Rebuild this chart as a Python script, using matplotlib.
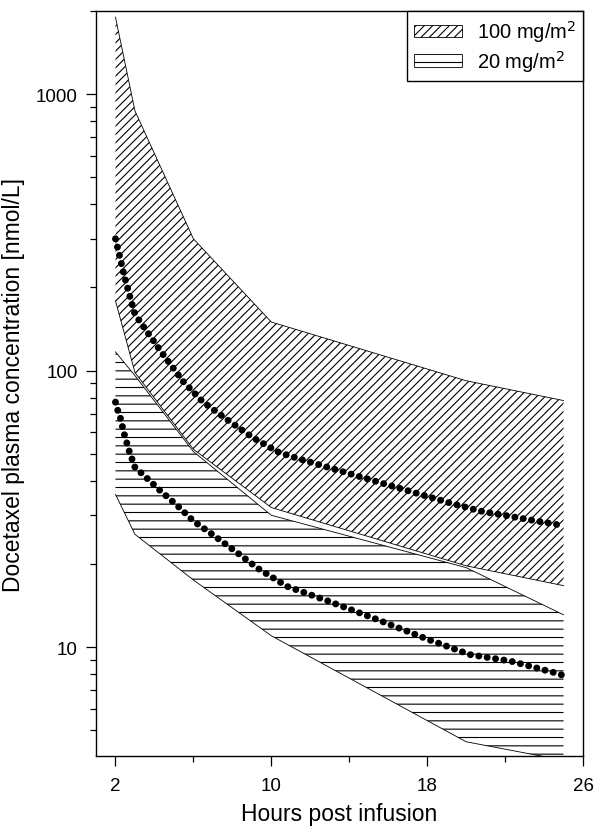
import matplotlib
matplotlib.use('Agg')
import matplotlib.pyplot as plt
from matplotlib.patches import Patch
from matplotlib.ticker import FixedLocator, NullFormatter
import numpy as np

plt.rcParams['font.family'] = ['Liberation Sans', 'DejaVu Sans']
plt.rcParams['hatch.linewidth'] = 0.8

# band time points (h)
t_band = [2, 3, 6, 10, 20, 25]
# 100 mg/m2 range
hi_upper = [1900, 870, 300, 150, 92, 78]
hi_lower = [179, 98.5, 52, 32, 19.7, 16.7]
# 20 mg/m2 range
lo_upper = [117, 96, 51, 30, 19.4, 13.1]
lo_lower = [35.7, 25.6, 17.5, 11.0, 4.55, 3.9]

# mean curves
t_mean_hi = [2, 2.2, 2.4, 2.75, 3, 3.6, 4.5, 5.5, 6.5, 7.8, 9.1, 10.4, 11.6,
             15.1, 19, 20.7, 25]
c_mean_hi = [300, 262, 228, 184, 160, 139, 113, 91, 77, 66, 57, 50.6, 47.6,
             40.3, 33.5, 31.1, 27.5]
t_mean_lo = [2, 2.1, 2.25, 2.45, 2.7, 3, 3.45, 4.3, 5.2, 6, 6.9, 8.2, 9.3,
             10.8, 12.9, 15.3, 18, 20.2, 22.3, 24.5, 25]
c_mean_lo = [77, 72.5, 67.5, 59, 51.3, 44.7, 41.9, 36.8, 32.4, 28.6, 25.8,
             22.1, 19.3, 16.6, 14.7, 12.7, 10.7, 9.4, 8.9, 8.1, 7.9]

labels = ['100 mg/m$^2$', '20 mg/m$^2$']
hatches = ['////', '--']

fig = plt.figure(figsize=(6, 8.28), dpi=100)
ax = fig.add_axes([0.16, 0.0857, 0.8117, 0.8998])

ax.fill_between(t_band, hi_lower, hi_upper, facecolor='none',
                edgecolor='black', hatch=hatches[0], linewidth=0)
ax.fill_between(t_band, lo_lower, lo_upper, facecolor='none',
                edgecolor='black', hatch=hatches[1], linewidth=0)
for yy in (hi_upper, hi_lower, lo_upper, lo_lower):
    ax.plot(t_band, yy, color='black', lw=0.6)

for tt, cc in ((t_mean_hi, c_mean_hi), (t_mean_lo, c_mean_lo)):
    ax.plot(tt, cc, color='black', lw=5.0, linestyle=(0, (0.01, 1.21)),
            dash_capstyle='round', zorder=5)

ax.set_yscale('log')
ax.set_xlim(1, 26)
ax.set_ylim(4.04, 2000)
ax.set_xticks([2, 10, 18, 26])
ax.xaxis.set_minor_locator(FixedLocator([6, 14, 22]))
ax.set_yticks([10, 100, 1000])
ax.set_yticklabels(['10', '100', '1000'])
ax.yaxis.set_minor_locator(FixedLocator(
    [m * 10 ** e for e in range(0, 4) for m in range(2, 10)]))
ax.yaxis.set_minor_formatter(NullFormatter())
ax.tick_params(which='major', length=7, width=0.9, labelsize=13.5)
ax.tick_params(axis='x', which='major', pad=8)
ax.tick_params(axis='y', which='major', pad=6)
ax.tick_params(which='minor', length=4, width=0.9)
for s in ax.spines.values():
    s.set_linewidth(1.0)

ax.set_xlabel('Hours post infusion', fontsize=16.5, labelpad=6)
ax.set_ylabel('Docetaxel plasma concentration [nmol/L]', fontsize=16.5,
              labelpad=8)

handles = [Patch(facecolor='white', edgecolor='black', hatch=h, lw=0.6)
           for h in hatches]
leg = ax.legend(handles, labels, loc='upper right', borderaxespad=0,
                fontsize=14.5, fancybox=False, framealpha=1,
                handlelength=2.35, handleheight=0.55, handletextpad=0.75,
                labelspacing=0.2, borderpad=0.35)
leg.get_frame().set_edgecolor('black')
leg.get_frame().set_linewidth(1.0)

fig.savefig('out.png', dpi=100)
